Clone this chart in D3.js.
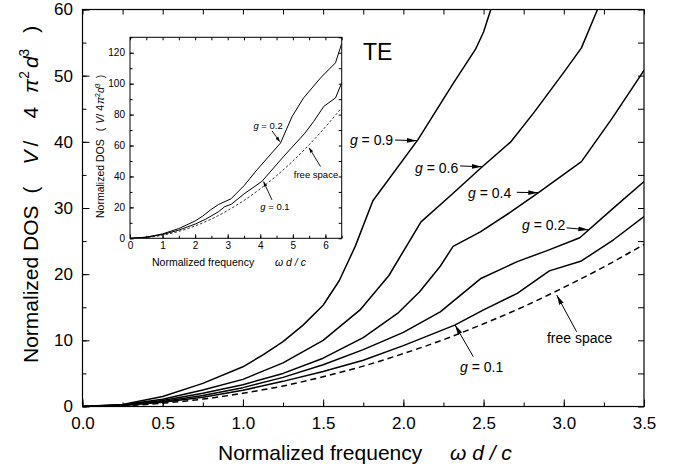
<!DOCTYPE html>
<html>
<head>
<meta charset="utf-8">
<script src="https://cdn.jsdelivr.net/npm/d3@7"></script>
<style>
  body { margin: 0; background: #fff; }
  svg { display: block; }
  text { font-family: "Liberation Sans", Arial, Helvetica, sans-serif; fill: #000; }
</style>
</head>
<body>
<div id="chart"></div>
<script>
// ---- main panel data: normalized DOS vs normalized frequency (TE) ----
const freeSpace = [[0,0],[0.25,0.12],[0.5,0.5],[0.75,1.12],[1.0,2.0],[1.25,3.1],[1.5,4.5],[1.75,6.1],
  [2.0,8.0],[2.25,10.1],[2.5,12.5],[2.75,15.1],[3.0,18.0],[3.25,21.1],[3.5,24.5]];
const g01 = [[0,0],[0.25,0.15],[0.5,0.65],[0.75,1.4],[1.0,2.45],[1.25,3.8],[1.5,5.3],[1.75,7.0],
  [2.0,9.2],[2.32,12.3],[2.5,14.6],[2.71,17.1],[2.91,20.5],[3.11,22.0],[3.31,25.2],[3.5,28.7]];
const g02 = [[0,0],[0.25,0.18],[0.5,0.75],[0.75,1.65],[1.0,2.85],[1.25,4.4],[1.5,6.3],[1.75,8.6],
  [2.0,11.2],[2.23,14.3],[2.48,19.3],[2.71,21.9],[2.9,23.6],[3.1,25.5],[3.3,29.8],[3.5,34.0]];
const g04 = [[0,0],[0.25,0.2],[0.5,0.9],[0.75,2.0],[1.0,3.3],[1.25,5.0],[1.5,7.3],[1.75,10.4],
  [1.97,14.2],[2.1,17.3],[2.23,21.2],[2.31,24.2],[2.48,26.4],[2.67,29.4],[2.84,32.3],[3.11,37.0],
  [3.3,43.5],[3.5,50.8]];
const g06 = [[0,0],[0.25,0.25],[0.5,1.1],[0.75,2.5],[1.0,4.1],[1.25,6.6],[1.5,10.0],[1.73,14.6],
  [1.91,19.8],[2.11,27.9],[2.3,32.0],[2.49,36.2],[2.67,40.0],[2.81,44.3],[3.0,50.5],[3.11,54.2],[3.21,60]];
const g09 = [[0,0],[0.25,0.3],[0.5,1.5],[0.75,3.5],[1.0,6.0],[1.125,7.8],[1.25,9.8],[1.375,12.3],
  [1.5,15.3],[1.6,19.0],[1.7,24.2],[1.81,31.1],[2.09,40.3],[2.31,48.8],[2.45,54.0],[2.5,56.6],[2.545,60]];

const xTicks = [0, 0.5, 1.0, 1.5, 2.0, 2.5, 3.0, 3.5];
const yTicks = [0, 10, 20, 30, 40, 50, 60];

// ---- inset data: wider frequency range ----
const insetFree = [[0,0],[0.5,0.5],[1,2],[1.5,4.5],[2,8],[2.5,12.5],[3,18],[3.5,24.5],[4,32],[4.5,40.5],
  [5,50],[5.5,60.5],[6,72],[6.5,84.5]];
const insetG01 = [[0,0],[0.5,0.65],[1.0,2.45],[1.5,5.3],[2.0,9.2],[2.32,12.3],[2.71,17.1],[2.91,20.5],
  [3.11,22.0],[3.5,28.7],[4.05,36.8],[4.72,53],[5.37,68],[5.64,75.6],[5.95,85.3],[6.31,90.8],[6.5,100.5]];
const insetG02 = [[0,0],[0.5,0.75],[1.0,2.85],[1.5,6.3],[2.0,11.2],[2.23,14.3],[2.48,18.5],[2.72,21.9],
  [3.1,25.5],[3.5,34],[3.9,44.3],[4.62,61.6],[4.98,78.9],[5.33,90.8],[5.85,103.7],[6.31,113.5],[6.5,126]];

const insetXTicks = [0, 1, 2, 3, 4, 5, 6];
const insetYTicks = [0, 20, 40, 60, 80, 100, 120];

// annotations in data coordinates: label start, arrow tail, arrow tip
const mainNotes = [
  { g: "0.9", at: [1.667, 39.5], from: [1.948, 40.27], to: [2.083, 40.17] },
  { g: "0.6", at: [2.073, 35.3], from: [2.354, 36.35], to: [2.488, 36.24] },
  { g: "0.4", at: [2.403, 31.5], from: [2.707, 32.37], to: [2.841, 32.31] },
  { g: "0.2", at: [2.74, 26.67], from: [3.018, 27.0], to: [3.153, 26.7] },
  { label: "free space", at: [2.895, 9.6], from: [3.08, 11.3], to: [2.956, 16.85] },
  { g: "0.1", at: [2.353, 5.14], from: [2.436, 7.53], to: [2.322, 12.32] }
];
const insetNotes = [
  { g: "0.2", at: [3.79, 70.6], from: [4.36, 69.5], to: [4.6, 62.5] },
  { label: "free space", at: [5.03, 39], from: [5.85, 46.4], to: [5.5, 58.5] },
  { g: "0.1", at: [4.0, 18.4], from: [4.36, 24.8], to: [4.1, 36.7] }
];

const width = 680, height = 472;
const svg = d3.select("#chart").append("svg").attr("width", width).attr("height", height);

const defs = svg.append("defs");
defs.append("marker").attr("id", "arrow")
  .attr("markerUnits", "userSpaceOnUse").attr("markerWidth", 10).attr("markerHeight", 6)
  .attr("refX", 10).attr("refY", 3).attr("orient", "auto")
  .append("path").attr("d", "M0,0.6L10,3L0,5.4Z").attr("fill", "#000");
defs.append("marker").attr("id", "arrowS")
  .attr("markerUnits", "userSpaceOnUse").attr("markerWidth", 5).attr("markerHeight", 4)
  .attr("refX", 5).attr("refY", 2).attr("orient", "auto")
  .append("path").attr("d", "M0,0.3L5,2L0,3.7Z").attr("fill", "#000");

// ---------------- main panel ----------------
const x = d3.scaleLinear().domain([0, 3.5]).range([82.5, 644]);
const y = d3.scaleLinear().domain([0, 60]).range([406.5, 9.5]);

defs.append("clipPath").attr("id", "mainClip").append("rect")
  .attr("x", 82.5).attr("y", 9.5).attr("width", 644 - 82.5).attr("height", 406.5 - 9.5);

function drawTicks(g, gen, values, size, fmt, pad, fontSize) {
  const a = g.call(gen.tickValues(values).tickSize(size).tickPadding(pad).tickFormat(fmt));
  a.select(".domain").remove();
  a.selectAll(".tick line").attr("stroke", "#000").attr("stroke-width", 1);
  a.selectAll(".tick text").style("font-size", fontSize + "px");
  a.attr("font-family", null);
  return a;
}

const minorX = d3.range(0, 3.51, 0.25);
const minorY = d3.range(0, 60.1, 5);
const fmtX = d3.format(".1f");

drawTicks(svg.append("g").attr("transform", "translate(0,406.5)"), d3.axisBottom(x), minorX, -4, "", 0, 17);
drawTicks(svg.append("g").attr("transform", "translate(0,406.5)"), d3.axisBottom(x), xTicks, -7, fmtX, 10, 17);
drawTicks(svg.append("g").attr("transform", "translate(0,9.5)"), d3.axisTop(x), minorX, -5, "", 0, 17);
drawTicks(svg.append("g").attr("transform", "translate(82.5,0)"), d3.axisLeft(y), minorY, -4, "", 0, 17);
drawTicks(svg.append("g").attr("transform", "translate(82.5,0)"), d3.axisLeft(y), yTicks, -7, d3.format("d"), 9.5, 17);
drawTicks(svg.append("g").attr("transform", "translate(644,0)"), d3.axisRight(y), minorY, -6, "", 0, 17);

const line = d3.line().x(d => x(d[0])).y(d => y(d[1]));
const curves = svg.append("g").attr("clip-path", "url(#mainClip)");
[g01, g02, g04, g06, g09].forEach(s => {
  curves.append("path").datum(s).attr("d", line)
    .attr("fill", "none").attr("stroke", "#000").attr("stroke-width", 1.5)
    .attr("stroke-linejoin", "round");
});
curves.append("path").datum(freeSpace).attr("d", d3.line().x(d => x(d[0])).y(d => y(d[1])).curve(d3.curveMonotoneX))
  .attr("fill", "none").attr("stroke", "#000").attr("stroke-width", 1.5)
  .attr("stroke-dasharray", "6,4");

svg.append("rect").attr("x", 82.5).attr("y", 9.5).attr("width", 644 - 82.5).attr("height", 406.5 - 9.5)
  .attr("fill", "none").attr("stroke", "#000").attr("stroke-width", 1.2);

// annotations
function noteText(g, n, sx, sy, size) {
  const t = g.append("text").attr("x", sx(n.at[0])).attr("y", sy(n.at[1])).style("font-size", size + "px");
  if (n.g) {
    t.append("tspan").style("font-style", "italic").text("g");
    t.append("tspan").text(" = " + n.g);
  } else {
    t.text(n.label);
  }
}
const notes = svg.append("g");
mainNotes.forEach(n => {
  noteText(notes, n, x, y, 14);
  notes.append("line")
    .attr("x1", x(n.from[0])).attr("y1", y(n.from[1]))
    .attr("x2", x(n.to[0])).attr("y2", y(n.to[1]))
    .attr("stroke", "#000").attr("stroke-width", 1).attr("marker-end", "url(#arrow)");
});

svg.append("text").attr("x", 363).attr("y", 60).style("font-size", "23px").text("TE");

// axis titles
const xt = svg.append("text").attr("x", 218).attr("y", 460).style("font-size", "21px");
xt.append("tspan").text("Normalized frequency");
xt.append("tspan").attr("x", 450).style("font-style", "italic").text("ω d / c");

// rotated DOS label with super-scripts, built from tspans
function dosLabel(tx, start, size, gaps) {
  const t = svg.append("text")
    .attr("transform", `translate(${tx},0) rotate(-90)`)
    .attr("x", -start).style("font-size", size + "px");
  const sup = size * 0.66, up = size * 0.42;
  t.append("tspan").text("Normalized DOS");
  t.append("tspan").attr("dx", gaps[0]).text("(");
  t.append("tspan").attr("dx", gaps[1]).style("font-style", "italic").text("V");
  t.append("tspan").attr("dx", gaps[5]).text("/");
  t.append("tspan").attr("dx", gaps[2]).text("4");
  t.append("tspan").attr("dx", gaps[3]).style("font-style", "italic").text("π");
  t.append("tspan").attr("dy", -up).style("font-size", sup + "px").text("2");
  t.append("tspan").attr("dy", up).attr("dx", gaps[6]).style("font-style", "italic").text("d");
  t.append("tspan").attr("dy", -up).style("font-size", sup + "px").text("3");
  t.append("tspan").attr("dy", up).attr("dx", gaps[4]).text(")");
}
dosLabel(38, 363, 21, [12, 22, 22, 14, 16, 4, 3]);

// ---------------- inset ----------------
const ix = d3.scaleLinear().domain([0, 6.5]).range([130, 341.7]);
const iy = d3.scaleLinear().domain([0, 130]).range([238.3, 37.3]);

svg.append("rect").attr("x", 130).attr("y", 37.3).attr("width", 341.7 - 130).attr("height", 238.3 - 37.3)
  .attr("fill", "#fff");

defs.append("clipPath").attr("id", "insetClip").append("rect")
  .attr("x", 130).attr("y", 37.3).attr("width", 341.7 - 130).attr("height", 238.3 - 37.3);

const iMinorX = d3.range(0, 6.51, 0.5);
const iMinorY = d3.range(0, 130.1, 10);
drawTicks(svg.append("g").attr("transform", "translate(0,238.3)"), d3.axisBottom(ix), iMinorX, -2.5, "", 0, 10);
drawTicks(svg.append("g").attr("transform", "translate(0,238.3)"), d3.axisBottom(ix), insetXTicks, -4, d3.format("d"), 4, 10);
drawTicks(svg.append("g").attr("transform", "translate(0,37.3)"), d3.axisTop(ix), iMinorX, -3, "", 0, 10);
drawTicks(svg.append("g").attr("transform", "translate(130,0)"), d3.axisLeft(iy), iMinorY, -2.5, "", 0, 10);
drawTicks(svg.append("g").attr("transform", "translate(130,0)"), d3.axisLeft(iy), insetYTicks, -4, d3.format("d"), 5, 10);
drawTicks(svg.append("g").attr("transform", "translate(341.7,0)"), d3.axisRight(iy), iMinorY, -3, "", 0, 10);

const iline = d3.line().x(d => ix(d[0])).y(d => iy(d[1]));
const icurves = svg.append("g").attr("clip-path", "url(#insetClip)");
[insetG01, insetG02].forEach(s => {
  icurves.append("path").datum(s).attr("d", iline)
    .attr("fill", "none").attr("stroke", "#000").attr("stroke-width", 1)
    .attr("stroke-linejoin", "round");
});
icurves.append("path").datum(insetFree).attr("d", iline.curve(d3.curveMonotoneX))
  .attr("fill", "none").attr("stroke", "#000").attr("stroke-width", 0.8)
  .attr("stroke-dasharray", "2.5,2");

svg.append("rect").attr("x", 130).attr("y", 37.3).attr("width", 341.7 - 130).attr("height", 238.3 - 37.3)
  .attr("fill", "none").attr("stroke", "#000").attr("stroke-width", 1);

const inotes = svg.append("g");
insetNotes.forEach(n => {
  noteText(inotes, n, ix, iy, 9.5);
  inotes.append("line")
    .attr("x1", ix(n.from[0])).attr("y1", iy(n.from[1]))
    .attr("x2", ix(n.to[0])).attr("y2", iy(n.to[1]))
    .attr("stroke", "#000").attr("stroke-width", 0.9).attr("marker-end", "url(#arrowS)");
});

const ixt = svg.append("text").attr("x", 152).attr("y", 266).style("font-size", "10.5px");
ixt.append("tspan").text("Normalized frequency");
ixt.append("tspan").attr("x", 275).style("font-style", "italic").text("ω d / c");

dosLabel(104, 218, 10.5, [8, 4, 3, 1, 5, 0, 0]);
</script>
</body>
</html>
